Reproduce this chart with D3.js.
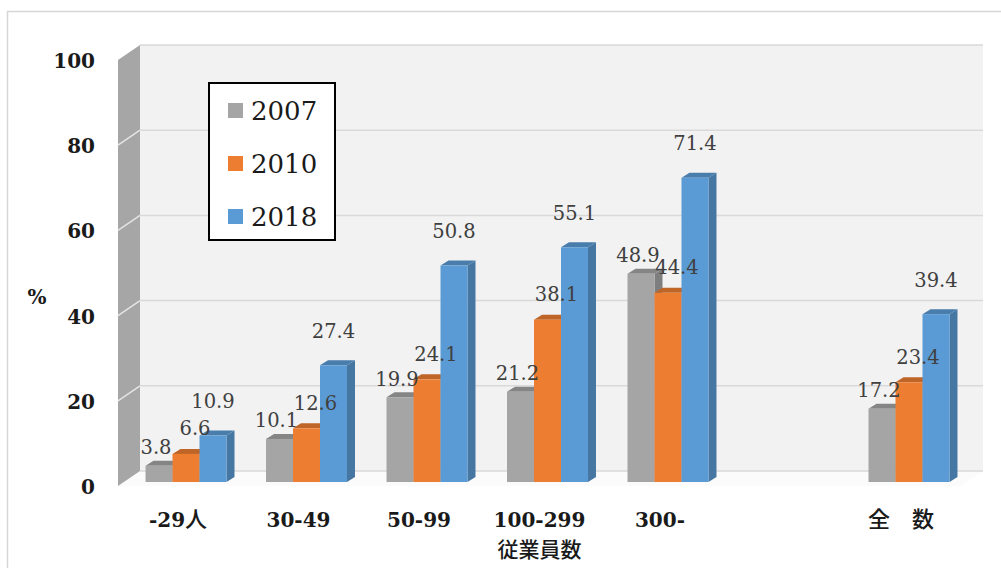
<!DOCTYPE html>
<html>
<head>
<meta charset="utf-8">
<script src="https://cdn.jsdelivr.net/npm/d3@7"></script>
<style>
  body { margin: 0; background: #fff; }
  svg { display: block; }
</style>
</head>
<body>
<svg id="chart" width="1001" height="568"></svg>
<script>
// Share (%) by company size, three survey years
const categories = ["-29人", "30-49", "50-99", "100-299", "300-", "", "全　数"];
const series = ["2007", "2010", "2018"];
const values2007 = [3.8, 10.1, 19.9, 21.2, 48.9, null, 17.2];
const values2010 = [6.6, 12.6, 24.1, 38.1, 44.4, null, 23.4];
const values2018 = [10.9, 27.4, 50.8, 55.1, 71.4, null, 39.4];
const yTicks = [0, 20, 40, 60, 80, 100];
const yTitle = "%";
const groupTitle = "従業員数";

const seriesValues = [values2007, values2010, values2018];
const frontColors = ["#a5a5a5", "#ed7d31", "#5b9bd5"];

const svg = d3.select("#chart");
const serif = "'DejaVu Serif', serif";
const cjk = "'Noto Sans CJK JP', sans-serif";

// 3D box geometry: front plane, back plane and the depth offset between them
const wallFrontX = 118, wallBackX = 140, wallRightX = 983;
const depthDX = wallBackX - wallFrontX, depthDY = 15;

const yFront = d3.scaleLinear().domain([0, 100]).range([486, 60]);
const yBack = d3.scaleLinear().domain([0, 100]).range([486 - depthDY, 60 - depthDY]);
const yBar = d3.scaleLinear().domain([0, 100]).range([482, 56]);

const x = d3.scaleBand().domain(d3.range(categories.length))
  .range([106, 989]).paddingInner(0.328).paddingOuter(0.328);
const xs = d3.scaleBand().domain(series).range([0, x.bandwidth()]);

// chart area frame
svg.append("rect").attr("x", 7.5).attr("y", 11.5).attr("width", 1100).attr("height", 700)
  .attr("fill", "#fff").attr("stroke", "#d6d6d6").attr("stroke-width", 1.5);

// back wall
svg.append("rect").attr("x", wallBackX).attr("y", yBack(100))
  .attr("width", wallRightX - wallBackX).attr("height", yBack(0) - yBack(100))
  .attr("fill", "#f2f2f2");

// floor
svg.append("polygon")
  .attr("points", [[wallFrontX, yFront(0)], [wallBackX, yBack(0)], [wallRightX, yBack(0)],
                   [wallRightX - depthDX, yFront(0)]].map(p => p.join(",")).join(" "))
  .attr("fill", "#fbfbfb");

// side wall
svg.append("polygon")
  .attr("points", [[wallFrontX, yFront(100)], [wallBackX, yBack(100)], [wallBackX, yBack(0)],
                   [wallFrontX, yFront(0)]].map(p => p.join(",")).join(" "))
  .attr("fill", "#a6a6a6");

// gridlines on the back and side walls
svg.append("g").selectAll("line").data(yTicks).join("line")
  .attr("x1", wallBackX).attr("x2", wallRightX)
  .attr("y1", d => yBack(d)).attr("y2", d => yBack(d))
  .attr("stroke", "#d9d9d9").attr("stroke-width", 1.5);
svg.append("g").selectAll("line").data(yTicks.filter(d => d > 0 && d < 100)).join("line")
  .attr("x1", wallFrontX).attr("x2", wallBackX)
  .attr("y1", d => yFront(d)).attr("y2", d => yBack(d))
  .attr("stroke", "#e4e4e4").attr("stroke-width", 1.5);

// y tick labels on the front plane
svg.append("g").selectAll("text").data(yTicks).join("text")
  .attr("x", 95).attr("y", d => yFront(d) + 1)
  .attr("text-anchor", "end").attr("dominant-baseline", "central")
  .attr("font-family", serif).attr("font-weight", "bold").attr("font-size", 20)
  .attr("fill", "#1a1a1a").text(d => d);

svg.append("text").attr("x", 37).attr("y", 297)
  .attr("text-anchor", "middle").attr("dominant-baseline", "central")
  .attr("font-family", serif).attr("font-weight", "bold").attr("font-size", 20)
  .attr("fill", "#1a1a1a").text(yTitle);

// columns: front, top and right faces
const barDX = 8, barDY = 5;
const bars = [];
categories.forEach((c, i) => {
  series.forEach((s, j) => {
    const v = seriesValues[j][i];
    if (v == null) return;
    bars.push({ i, j, v, x0: x(i) + xs(s), w: xs.bandwidth() });
  });
});

const barG = svg.append("g");
bars.forEach(b => {
  const yT = yBar(b.v), yB = yBar(0);
  const base = d3.color(frontColors[b.j]);
  const g = barG.append("g");
  g.append("polygon")
    .attr("points", [[b.x0 + b.w, yT], [b.x0 + b.w + barDX, yT - barDY],
                     [b.x0 + b.w + barDX, yB - barDY], [b.x0 + b.w, yB]].map(p => p.join(",")).join(" "))
    .attr("fill", base.darker(0.75));
  g.append("polygon")
    .attr("points", [[b.x0, yT], [b.x0 + b.w, yT], [b.x0 + b.w + barDX, yT - barDY],
                     [b.x0 + barDX, yT - barDY]].map(p => p.join(",")).join(" "))
    .attr("fill", base.darker(0.6));
  g.append("rect").attr("x", b.x0).attr("y", yT)
    .attr("width", b.w).attr("height", yB - yT).attr("fill", base);
});

// value labels
const labelDX = [-3, 9, 0], labelDY = [18, 25, 34];
svg.append("g").selectAll("text").data(bars).join("text")
  .attr("x", b => b.x0 + b.w / 2 + labelDX[b.j])
  .attr("y", b => yBar(b.v) - labelDY[b.j])
  .attr("text-anchor", "middle").attr("dominant-baseline", "central")
  .attr("font-family", serif).attr("font-size", 19.5).attr("fill", "#404040")
  .text(b => b.v.toFixed(1));

// category labels, CJK runs set in a CJK face
function addLabel(sel, txt, cjkSize) {
  txt.split(/([\u3000-\u9fff]+)/).filter(t => t.length).forEach(t => {
    const isCjk = /[\u3000-\u9fff]/.test(t);
    sel.append("tspan").text(t)
      .attr("font-family", isCjk ? cjk : serif)
      .attr("font-size", isCjk ? cjkSize : 20)
      .attr("font-weight", isCjk ? 500 : "bold");
  });
}
const catG = svg.append("g");
categories.forEach((c, i) => {
  if (!c) return;
  const t = catG.append("text").attr("x", x(i) + x.bandwidth() / 2 - 8).attr("y", 527)
    .attr("text-anchor", "middle").attr("fill", "#1a1a1a");
  addLabel(t, c, 22);
});
const gt = svg.append("text").attr("x", x(3) + x.bandwidth() / 2 - 8).attr("y", 557)
  .attr("text-anchor", "middle").attr("fill", "#1a1a1a");
addLabel(gt, groupTitle, 21);

// legend
const lg = svg.append("g");
lg.append("rect").attr("x", 209).attr("y", 83).attr("width", 126).attr("height", 157)
  .attr("fill", "#fff").attr("stroke", "#000").attr("stroke-width", 2);
series.forEach((s, j) => {
  const by = 120 + j * 53;
  lg.append("rect").attr("x", 228).attr("y", by - 17).attr("width", 15).attr("height", 15)
    .attr("fill", frontColors[j]);
  lg.append("text").attr("x", 251).attr("y", by)
    .attr("font-family", serif).attr("font-size", 26).attr("fill", "#1a1a1a").text(s);
});
</script>
</body>
</html>
